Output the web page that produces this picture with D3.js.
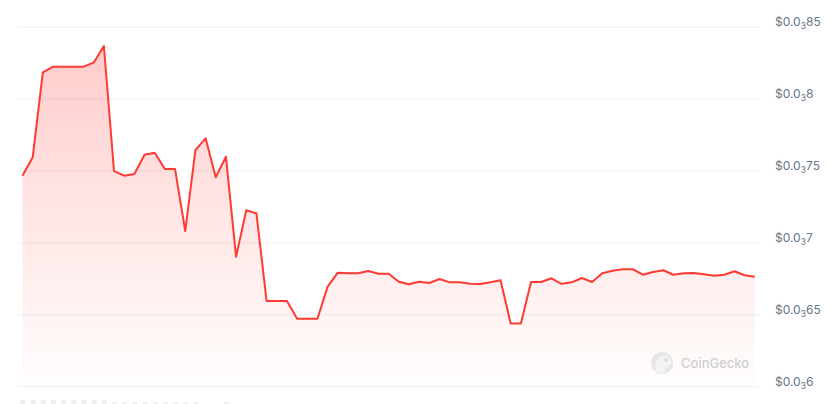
<!DOCTYPE html>
<html>
<head>
<meta charset="utf-8">
<script src="https://cdn.jsdelivr.net/npm/d3@7"></script>
<style>
  html, body { margin: 0; padding: 0; background: #fff; overflow: hidden; }
  svg { display: block; }
</style>
</head>
<body>
<script>
// price per step (USD)
var prices = [
  0.0007468, 0.0007596, 0.0008187, 0.0008226, 0.0008226, 0.0008226, 0.0008226, 0.0008254, 0.0008370, 0.0007500,
  0.0007468, 0.0007480, 0.0007614, 0.0007628, 0.0007514, 0.0007514, 0.0007083, 0.0007646, 0.0007728, 0.0007457,
  0.0007600, 0.0006904, 0.0007227, 0.0007206, 0.0006596, 0.0006596, 0.0006596, 0.0006473, 0.0006473, 0.0006473,
  0.0006696, 0.0006793, 0.0006789, 0.0006789, 0.0006805, 0.0006786, 0.0006786, 0.0006730, 0.0006712, 0.0006730,
  0.0006721, 0.0006749, 0.0006726, 0.0006726, 0.0006716, 0.0006714, 0.0006726, 0.0006740, 0.0006440, 0.0006440,
  0.0006728, 0.0006728, 0.0006754, 0.0006716, 0.0006726, 0.0006756, 0.0006728, 0.0006789, 0.0006807, 0.0006817,
  0.0006817, 0.0006779, 0.0006798, 0.0006810, 0.0006779, 0.0006789, 0.0006791, 0.0006782, 0.0006772, 0.0006779,
  0.0006803, 0.0006775, 0.0006765
];

// faint volume bars at the foot of the chart (relative units)
var volumes = [
  1, 1, 1, 1, 1, 1, 1, 1, 1, 0.45,
  0.45, 0.45, 0.45, 0.45, 0.45, 0.45, 0.45, 0.45, 0, 0,
  0.55
];

var tickValues = [0.0006, 0.00065, 0.0007, 0.00075, 0.0008, 0.00085];
var tickLabels = ["$0.0₃6", "$0.0₃65", "$0.0₃7", "$0.0₃75", "$0.0₃8", "$0.0₃85"];

var width = 837,
    height = 404;

var svg = d3.select("body")
    .append("svg")
    .attr("width", width)
    .attr("height", height);

var x = d3.scaleLinear()
    .domain([0, prices.length - 1])
    .range([22.5, 754.8]);

var y = d3.scaleLinear()
    .domain([0.0006, 0.00085])
    .range([386.7, 27.3]);

var vol = d3.scaleLinear()
    .domain([0, 1])
    .range([404, 400]);

var red = "#ff3a33";

//gradient under the line
var defs = svg.append("defs");
var grad = defs.append("linearGradient")
    .attr("id", "fillGrad")
    .attr("gradientUnits", "userSpaceOnUse")
    .attr("x1", 0).attr("x2", 0)
    .attr("y1", y(0.00085)).attr("y2", y(0.0006));
grad.append("stop").attr("offset", 0).attr("stop-color", red).attr("stop-opacity", 0.28);
grad.append("stop").attr("offset", 0.5).attr("stop-color", red).attr("stop-opacity", 0.13);
grad.append("stop").attr("offset", 1).attr("stop-color", red).attr("stop-opacity", 0.01);

//horizontal grid lines
svg.selectAll(".grid")
    .data(tickValues)
    .enter()
    .append("line")
    .attr("class", "grid")
    .attr("x1", 18)
    .attr("x2", 760)
    .attr("y1", function(d){ return y(d); })
    .attr("y2", function(d){ return y(d); })
    .attr("stroke", "#eef0f3")
    .attr("stroke-width", 1);

//area + line
var area = d3.area()
    .x(function(d, i){ return x(i); })
    .y0(y(0.0006))
    .y1(function(d){ return y(d); });

var line = d3.line()
    .x(function(d, i){ return x(i); })
    .y(function(d){ return y(d); });

svg.append("path")
    .datum(prices)
    .attr("d", area)
    .attr("fill", "url(#fillGrad)");

svg.append("path")
    .datum(prices)
    .attr("d", line)
    .attr("fill", "none")
    .attr("stroke", red)
    .attr("stroke-width", 2)
    .attr("stroke-linejoin", "round");

//volume bars
svg.selectAll(".vol")
    .data(volumes)
    .enter()
    .append("rect")
    .attr("class", "vol")
    .attr("x", function(d, i){ return x(i) - 2; })
    .attr("width", 5)
    .attr("y", function(d){ return vol(d); })
    .attr("height", function(d){ return vol(0) - vol(d); })
    .attr("fill", "#edf0f3");

//y axis labels with the subscript zero count
var labels = svg.selectAll(".ylab")
    .data(tickValues)
    .enter()
    .append("text")
    .attr("class", "ylab")
    .attr("x", 775)
    .attr("y", function(d){ return y(d) - 1; })
    .attr("font-family", "Inter, 'Noto Sans', sans-serif")
    .attr("font-size", 12)
    .attr("fill", "#677489");

labels.each(function(d, i){
    var parts = tickLabels[i].split("₃");
    var t = d3.select(this);
    t.append("tspan").text(parts[0]);
    t.append("tspan").attr("font-size", 8.5).attr("dy", 3).text("3");
    t.append("tspan").attr("dy", -3).text(parts[1]);
});

//watermark
var wm = svg.append("g");
wm.append("circle")
    .attr("cx", 662).attr("cy", 363).attr("r", 11)
    .attr("fill", "#e6e6e6");
wm.append("path")
    .attr("d", "M655,372 C655,362 658,356 665,356 C670,356 672,360 671,364 C670,367 666,367 665,370 L665,373 Z")
    .attr("fill", "#f3f3f3");
wm.append("circle")
    .attr("cx", 666).attr("cy", 360).attr("r", 1.6)
    .attr("fill", "#d6d6d6");
wm.append("text")
    .attr("x", 681)
    .attr("y", 368)
    .attr("font-family", "Inter, 'Noto Sans', sans-serif")
    .attr("font-size", 13)
    .attr("font-weight", 500)
    .attr("fill", "#d0d0d0")
    .text("CoinGecko");
</script>
</body>
</html>
